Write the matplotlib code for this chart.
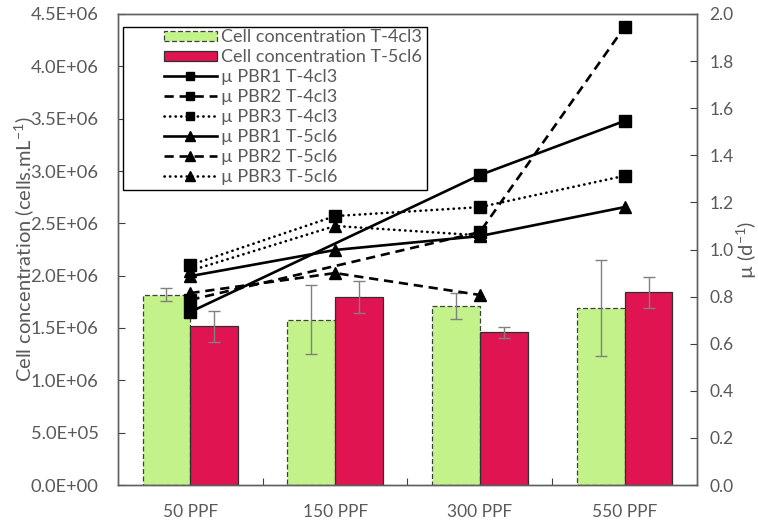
import numpy as np
import matplotlib
matplotlib.use("Agg")
import matplotlib.pyplot as plt
from matplotlib.ticker import FuncFormatter, FixedLocator
from matplotlib.patches import Rectangle

plt.rcParams['font.family'] = ['Lato', 'DejaVu Sans']
plt.rcParams['mathtext.default'] = 'regular'

categories = ['50 PPF', '150 PPF', '300 PPF', '550 PPF']
conc_t4 = [1.818e6, 1.579e6, 1.707e6, 1.688e6]
conc_t4_err = [0.064e6, 0.33e6, 0.125e6, 0.46e6]
conc_t5 = [1.516e6, 1.796e6, 1.458e6, 1.840e6]
conc_t5_err = [0.145e6, 0.155e6, 0.053e6, 0.15e6]

nan = np.nan
mu_pbr1_t4 = [0.735, nan, 1.316, 1.546]
mu_pbr2_t4 = [0.786, nan, 1.074, 1.945]
mu_pbr3_t4 = [0.934, 1.142, 1.180, 1.313]
mu_pbr1_t5 = [0.887, 0.998, 1.057, 1.180]
mu_pbr2_t5 = [0.815, 0.900, 0.807, nan]
mu_pbr3_t5 = [0.910, 1.100, 1.060, nan]

TXT = '#595959'
GREEN = '#C3F28A'
RED = '#DF1450'

fig = plt.figure(figsize=(7.58, 5.27), dpi=100)
ax1 = fig.add_axes([118/758, 1-485/527, (697-118)/758, (485-14)/527])
ax2 = ax1.twinx()

x = np.arange(len(categories))
w = 0.33
b1 = ax1.bar(x - w/2, conc_t4, w, color=GREEN, edgecolor='#404040', linestyle=(0, (4, 2)),
             linewidth=0.9, label='Cell concentration T-4cl3')
b2 = ax1.bar(x + w/2, conc_t5, w, color=RED, edgecolor='#303030', linewidth=0.9,
             label='Cell concentration T-5cl6')
ax1.errorbar(x - w/2, conc_t4, yerr=conc_t4_err, fmt='none', ecolor='#808080',
             elinewidth=1.0, capsize=4, capthick=1.0)
ax1.errorbar(x + w/2, conc_t5, yerr=conc_t5_err, fmt='none', ecolor='#808080',
             elinewidth=1.0, capsize=4, capthick=1.0)

dash = (0, (3.5, 2.2))
dot = (0, (0.1, 2.0))
series = [
    (mu_pbr1_t4, '-', 's', '\u00b5 PBR1 T-4cl3'),
    (mu_pbr2_t4, dash, 's', '\u00b5 PBR2 T-4cl3'),
    (mu_pbr3_t4, dot, 's', '\u00b5 PBR3 T-4cl3'),
    (mu_pbr1_t5, '-', '^', '\u00b5 PBR1 T-5cl6'),
    (mu_pbr2_t5, dash, '^', '\u00b5 PBR2 T-5cl6'),
    (mu_pbr3_t5, dot, '^', '\u00b5 PBR3 T-5cl6'),
]
line_handles = []
for vals, ls, mk, lab in series:
    v = np.array(vals, dtype=float)
    m = ~np.isnan(v)
    ln, = ax2.plot(x[m], v[m], linestyle=ls, marker=mk, color='black', linewidth=1.9,
                   markersize=8 if mk == 's' else 9, label=lab,
                   dash_capstyle='round' if ls is dot else 'butt')
    line_handles.append(ln)

ax1.set_xlim(-0.5, 3.5)
ax1.set_ylim(0, 4.5e6)
ax2.set_ylim(0, 2.0)
ax1.set_yticks(np.arange(0, 4.5e6 + 1, 0.5e6))
ax1.yaxis.set_major_formatter(FuncFormatter(lambda v, p: f"{v:.1E}"))
ax2.set_yticks(np.arange(0, 2.01, 0.2))
ax2.yaxis.set_major_formatter(FuncFormatter(lambda v, p: f"{v:.1f}"))

ax1.xaxis.set_major_locator(FixedLocator([0.5, 1.5, 2.5]))
ax1.xaxis.set_major_formatter(FuncFormatter(lambda v, p: ''))
ax1.set_xticks(x, minor=True)
ax1.set_xticklabels(categories, minor=True)
ax1.tick_params(axis='x', which='major', direction='in', length=5, color='#404040')
ax1.tick_params(axis='x', which='minor', length=0, pad=14, labelsize=12.5, labelcolor=TXT)
ax1.tick_params(axis='y', direction='in', length=5, labelsize=13.2, labelcolor=TXT, pad=14,
                color='#404040')
ax2.tick_params(axis='y', direction='in', length=5, labelsize=12.5, labelcolor=TXT, pad=9,
                color='#404040')
for ax in (ax1, ax2):
    for s in ax.spines.values():
        s.set_color('#606060')
        s.set_linewidth(1.0)

ax1.set_ylabel('Cell concentration (cells.mL$^{-1}$)', fontsize=14.5, color=TXT, labelpad=-4)
ax2.set_ylabel('\u00b5 (d$^{-1}$)', fontsize=14.5, color=TXT, labelpad=1)

# legend frame
frame = Rectangle((123/758, 1-190/527), (427-123)/758, (190-27)/527,
                  transform=fig.transFigure, facecolor='white',
                  edgecolor='black', linewidth=1.0, zorder=6, clip_on=False)
ax2.add_patch(frame)
handles = [b1, b2] + line_handles
leg = ax2.legend(handles=handles, loc='upper left', bbox_to_anchor=(162/758, 1-27/527),
                 bbox_transform=fig.transFigure, frameon=False, fontsize=13,
                 handlelength=2.9, handleheight=0.5, handletextpad=0.25,
                 labelspacing=0.22, markerscale=0.8,
                 borderpad=0.12, borderaxespad=0)
for t in leg.get_texts():
    t.set_color(TXT)
leg.set_zorder(10)

fig.savefig('out.png', dpi=100)
